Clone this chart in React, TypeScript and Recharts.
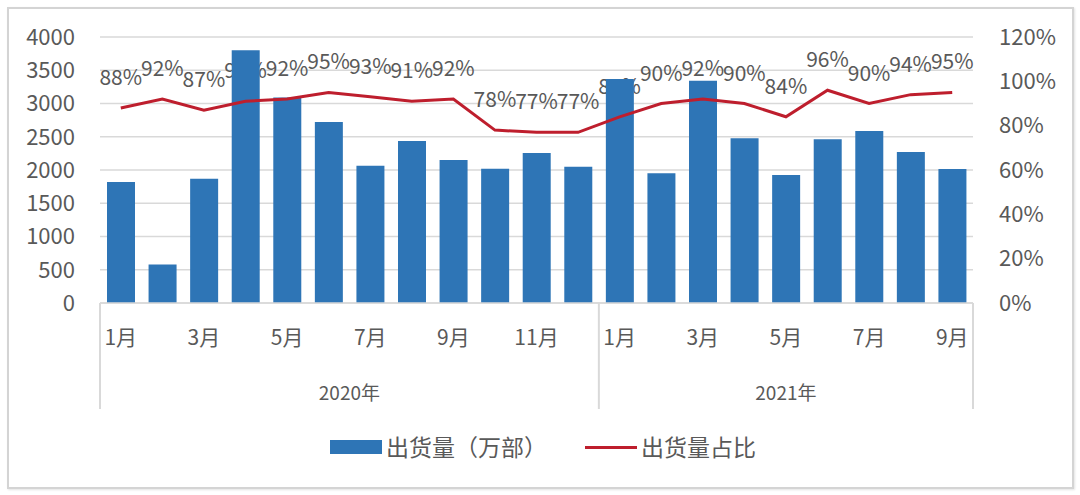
import { ComposedChart, Bar, Line, XAxis, YAxis, CartesianGrid, LabelList } from "recharts"

const months2020 = ["1月", "2月", "3月", "4月", "5月", "6月", "7月", "8月", "9月", "10月", "11月", "12月"]
const months2021 = ["1月", "2月", "3月", "4月", "5月", "6月", "7月", "8月", "9月"]
const years = ["2020年", "2021年"]
const shipments2020 = [1820, 580, 1870, 3800, 3090, 2720, 2065, 2436, 2150, 2020, 2256, 2050]
const shipments2021 = [3370, 1950, 3343, 2476, 1925, 2461, 2586, 2270, 2015]
const share2020 = [88, 92, 87, 91, 92, 95, 93, 91, 92, 78, 77, 77]
const share2021 = [84, 90, 92, 90, 84, 96, 90, 94, 95]
const leftTicks = [0, 500, 1000, 1500, 2000, 2500, 3000, 3500, 4000]
const rightTicks = [0, 20, 40, 60, 80, 100, 120]

const data = [
  ...months2020.map((m, i) => ({ month: m, year: years[0], shipments: shipments2020[i], share: share2020[i] })),
  ...months2021.map((m, i) => ({ month: m, year: years[1], shipments: shipments2021[i], share: share2021[i] })),
]

const W = 1080
const H = 495
const LEFT_W = 100
const RIGHT_W = 107
const BAND = (W - LEFT_W - RIGHT_W) / data.length
const TEXT = "#595959"
const GRID = "#d9d9d9"
const BLUE = "#2E75B6"
const RED = "#BE1E2D"
const FONT = "'Noto Sans CJK SC', 'Noto Sans', sans-serif"

function MonthTick(props: any) {
  const { x, y, payload } = props
  const i = payload.index
  const d = data[i]
  const num = parseInt(d.month, 10)
  const first = i === 0 || data[i - 1].year !== d.year
  const last = i === data.length - 1
  const count = data.filter((r) => r.year === d.year).length
  return (
    <g>
      {num % 2 === 1 && (
        <text x={x} y={y + 42} textAnchor="middle" fill={TEXT} fontSize={21} fontFamily={FONT}>
          {d.month}
        </text>
      )}
      {first && <line x1={x - BAND / 2} x2={x - BAND / 2} y1={y} y2={y + 106} stroke={GRID} strokeWidth={2} />}
      {last && <line x1={x + BAND / 2} x2={x + BAND / 2} y1={y} y2={y + 106} stroke={GRID} strokeWidth={2} />}
      {first && (
        <text x={x + ((count - 1) / 2) * BAND} y={y + 97} textAnchor="middle" fill={TEXT} fontSize={19} fontFamily={FONT}>
          {d.year}
        </text>
      )}
    </g>
  )
}

export default function App() {
  return (
    <div style={{ position: "absolute", left: 0, top: 0, width: W, height: H, background: "#fff", fontFamily: FONT }}>
      <div
        style={{
          position: "absolute",
          left: 7,
          top: 7,
          width: 1063,
          height: 478,
          border: "2px solid #d4d4d4",
          boxShadow: "1px 1px 2px #e4e4e4",
        }}
      />
      <ComposedChart width={W} height={H} data={data} margin={{ top: 37, right: 0, bottom: 82, left: 0 }}>
        <CartesianGrid yAxisId="left" vertical={false} stroke={GRID} strokeWidth={1.5} />
        <XAxis
          dataKey="month"
          interval={0}
          height={110}
          tickLine={false}
          tickSize={0}
          tickMargin={0}
          axisLine={{ stroke: GRID, strokeWidth: 1.5 }}
          tick={<MonthTick />}
        />
        <YAxis
          yAxisId="left"
          width={LEFT_W}
          domain={[0, 4000]}
          ticks={leftTicks}
          axisLine={false}
          tickLine={false}
          tickSize={0}
          tickMargin={25}
          tick={{ fill: TEXT, fontSize: 22, fontFamily: FONT }}
        />
        <YAxis
          yAxisId="right"
          orientation="right"
          width={RIGHT_W}
          domain={[0, 120]}
          ticks={rightTicks}
          tickFormatter={(v: number) => `${v}%`}
          axisLine={false}
          tickLine={false}
          tickSize={0}
          tickMargin={26}
          tick={{ fill: TEXT, fontSize: 22, fontFamily: FONT }}
        />
        <Line yAxisId="right" dataKey="share" stroke="none" dot={false} activeDot={false} isAnimationActive={false}>
          <LabelList
            dataKey="share"
            position="top"
            offset={23}
            zIndex={100}
            formatter={(v: any) => `${v}%`}
            fill={TEXT}
            fontSize={21}
            fontFamily={FONT}
          />
        </Line>
        <Bar yAxisId="left" dataKey="shipments" fill={BLUE} barSize={28} isAnimationActive={false} />
        <Line
          yAxisId="right"
          dataKey="share"
          stroke={RED}
          strokeWidth={3}
          dot={false}
          activeDot={false}
          isAnimationActive={false}
        />
      </ComposedChart>
      <div style={{ position: "absolute", left: 330, top: 440, width: 52, height: 14, background: BLUE }} />
      <div style={{ position: "absolute", left: 386, top: 430, fontSize: 23, color: TEXT, lineHeight: "32px", whiteSpace: "nowrap" }}>
        出货量（万部）
      </div>
      <div style={{ position: "absolute", left: 585, top: 446, width: 52, height: 3, background: RED }} />
      <div style={{ position: "absolute", left: 641, top: 430, fontSize: 23, color: TEXT, lineHeight: "32px", whiteSpace: "nowrap" }}>
        出货量占比
      </div>
    </div>
  )
}
